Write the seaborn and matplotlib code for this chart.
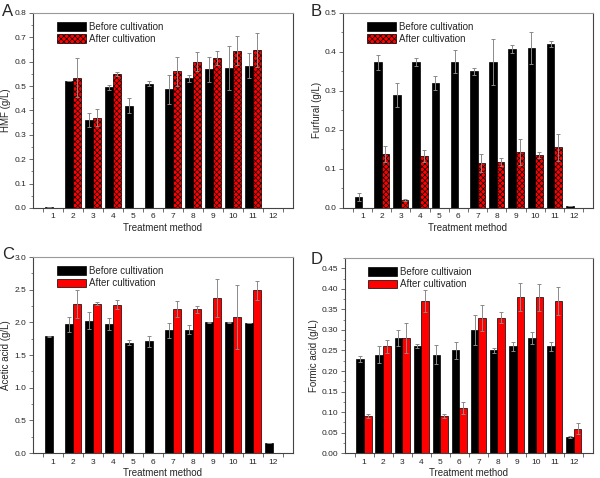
import matplotlib
matplotlib.use("Agg")

import numpy as np
import pandas as pd
import matplotlib.pyplot as plt
import seaborn as sns
from matplotlib.ticker import FormatStrFormatter, MultipleLocator, FixedLocator

# =====================
# DATA
# =====================
methods = [str(i) for i in range(1, 13)]
nan = np.nan

hmf_before = [0.002, 0.52, 0.36, 0.495, 0.42, 0.51, 0.487, 0.532, 0.568, 0.573, 0.584, nan]
hmf_before_err = [0, 0, 0.028, 0.01, 0.03, 0.01, 0.06, 0.015, 0.05, 0.09, 0.05, 0]
hmf_after = [nan, 0.535, 0.37, 0.55, nan, nan, 0.56, 0.60, 0.615, 0.645, 0.648, nan]
hmf_after_err = [0, 0.078, 0.035, 0.008, 0, 0, 0.058, 0.04, 0.028, 0.06, 0.07, 0]

fur_before = [0.028, 0.373, 0.29, 0.375, 0.32, 0.375, 0.35, 0.374, 0.407, 0.41, 0.42, 0.004]
fur_before_err = [0.01, 0.02, 0.03, 0.01, 0.018, 0.03, 0.01, 0.06, 0.011, 0.04, 0.008, 0]
fur_after = [nan, 0.138, 0.02, 0.133, nan, nan, 0.115, 0.118, 0.143, 0.136, 0.155, nan]
fur_after_err = [0, 0.02, 0.003, 0.016, 0, 0, 0.023, 0.01, 0.033, 0.008, 0.035, 0]

ace_before = [1.79, 1.97, 2.03, 1.98, 1.69, 1.71, 1.88, 1.89, 2.0, 2.0, 1.99, 0.15]
ace_before_err = [0.005, 0.12, 0.13, 0.09, 0.04, 0.08, 0.11, 0.07, 0.005, 0.005, 0.005, 0]
ace_after = [nan, 2.28, 2.29, 2.27, nan, nan, 2.21, 2.20, 2.37, 2.09, 2.49, nan]
ace_after_err = [0, 0.21, 0.025, 0.07, 0, 0, 0.12, 0.05, 0.29, 0.49, 0.14, 0]

for_before = [0.23, 0.24, 0.28, 0.26, 0.24, 0.25, 0.30, 0.25, 0.26, 0.28, 0.26, 0.04]
for_before_err = [0.007, 0.02, 0.02, 0.005, 0.023, 0.021, 0.037, 0.005, 0.011, 0.015, 0.011, 0.002]
for_after = [0.09, 0.26, 0.28, 0.37, 0.09, 0.11, 0.33, 0.33, 0.38, 0.38, 0.37, 0.06]
for_after_err = [0.005, 0.015, 0.037, 0.027, 0.005, 0.015, 0.032, 0.013, 0.035, 0.033, 0.034, 0.013]

panels = [
    ("A", "HMF (g/L)", hmf_before, hmf_before_err, hmf_after, hmf_after_err,
     0.8, 0.1, "%.1f", True, "Before cultivation"),
    ("B", "Furfural (g/L)", fur_before, fur_before_err, fur_after, fur_after_err,
     0.5, 0.1, "%.1f", True, "Before cultivation"),
    ("C", "Acetic acid (g/L)", ace_before, ace_before_err, ace_after, ace_after_err,
     3.0, 0.5, "%.1f", False, "Before cultivation"),
    ("D", "Formic acid (g/L)", for_before, for_before_err, for_after, for_after_err,
     0.475, 0.05, "%.2f", False, "Before cultivaion"),
]

positions = [
    [0.055, 0.565, 0.433, 0.408],
    [0.572, 0.565, 0.416, 0.408],
    [0.055, 0.052, 0.433, 0.410],
    [0.575, 0.052, 0.413, 0.408],
]
letter_pos = [(0.003, 0.975), (0.518, 0.975), (0.003, 0.468), (0.518, 0.458)]

# =====================
# PLOT
# =====================
sns.set_style("ticks")
plt.rcParams["font.family"] = ["Liberation Sans", "DejaVu Sans"]
plt.rcParams["hatch.linewidth"] = 0.5

fig = plt.figure(figsize=(6, 4.78), dpi=100)

for (letter, ylabel, bef, bef_err, aft, aft_err, ymax, step, fmt, hatched, lab1), pos, lp in zip(
        panels, positions, letter_pos):
    ax = fig.add_axes(pos)
    df = pd.DataFrame({
        "method": methods * 2,
        "value": list(bef) + list(aft),
        "cond": [lab1] * 12 + ["After cultivation"] * 12,
    })
    sns.barplot(data=df, x="method", y="value", hue="cond", order=methods,
                palette=["black", "red"], saturation=1, edgecolor="black",
                linewidth=0.5, errorbar=None, width=0.8, ax=ax)

    x = np.arange(12)
    ax.errorbar(x - 0.2, bef, yerr=bef_err, fmt="none", ecolor="#8a8a8a",
                elinewidth=0.7, capsize=1.6, capthick=0.7)
    ax.errorbar(x + 0.2, aft, yerr=aft_err, fmt="none", ecolor="#8a8a8a",
                elinewidth=0.7, capsize=1.6, capthick=0.7)

    if hatched:
        for patch in ax.containers[1]:
            patch.set_hatch("xxxxxx")

    ax.set_xlim(-1, 12)
    ax.set_ylim(0, ymax)
    ax.set_xticks(x)
    ax.set_xticklabels(methods)
    ax.xaxis.set_minor_locator(FixedLocator(np.arange(-0.5, 12, 1.0)))
    ax.yaxis.set_major_locator(MultipleLocator(step))
    ax.yaxis.set_minor_locator(MultipleLocator(step / 2))
    ax.yaxis.set_major_formatter(FormatStrFormatter(fmt))
    ax.tick_params(axis="x", which="major", labelsize=6, length=0, pad=4)
    ax.tick_params(axis="y", which="major", labelsize=6, length=3,
                   width=0.6, color="#555555", pad=2)
    ax.tick_params(axis="x", which="minor", length=3, width=0.6, color="#555555")
    ax.tick_params(axis="y", which="minor", length=1.5, width=0.5, color="#555555")
    for sp in ax.spines.values():
        sp.set_color("#444444")
        sp.set_linewidth(0.8)
    ax.spines["top"].set_color("#999999")

    ax.set_xlabel("Treatment method", fontsize=7, labelpad=1.5)
    ax.set_ylabel(ylabel, fontsize=7, labelpad=2)

    handles = [ax.containers[0].patches[0], ax.containers[1].patches[1]]
    ax.legend(handles, [lab1, "After cultivation"], loc="upper left",
              bbox_to_anchor=(0.07, 0.985), frameon=False, fontsize=7,
              handlelength=3.0, handleheight=1.0, handletextpad=0.3,
              labelspacing=0.25, borderaxespad=0.2)

    fig.text(lp[0], lp[1], letter, fontsize=12, va="center", ha="left")

fig.savefig("out.png", dpi=100)
plt.close(fig)
